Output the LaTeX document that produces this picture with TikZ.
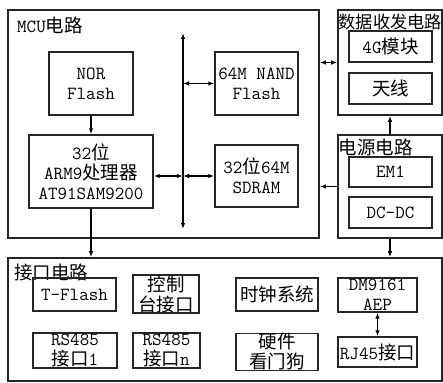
\documentclass[tikz,border=0pt]{standalone}
\usepackage{fontspec}
\newfontfamily\cjk{Noto Sans CJK SC}
\newcommand{\zh}[1]{{\cjk #1}}
\usetikzlibrary{arrows.meta}

\begin{document}
\begin{tikzpicture}[x=1pt, y=-1pt, font=\ttfamily\fontsize{18.5}{20}\selectfont, >={Latex[length=6pt,width=4.5pt]},
	group/.style={draw=black!85, line width=1.6pt, inner sep=0pt},
	unit/.style={draw=black!85, line width=1.4pt, inner sep=0pt, align=center},
	title/.style={anchor=west, inner sep=0pt},
	link/.style={line width=1.2pt}]
\useasboundingbox[fill=white] (0,0) rectangle (443,382);

% ---- MCU电路 ----
\node[group, minimum width=311pt, minimum height=228pt] (mcu) at (163.5,124) {};
\node[title] (mcuT) at (17,25) {MCU\zh{电路}};
\node[unit, minimum width=84pt, minimum height=63pt] (nor) at (91,83.5) {NOR\\Flash};
\node[unit, minimum width=124pt, minimum height=73pt] (arm) at (91,171.5) {32\zh{位}\\ARM9\zh{处理器}\\AT91SAM9200};
\node[unit, minimum width=83pt, minimum height=63pt] (nand) at (256.5,83.5) {64M NAND\\Flash};
\node[unit, minimum width=83pt, minimum height=62pt] (sdram) at (256.5,176) {32\zh{位}64M\\SDRAM};
\coordinate (busTop) at (183,33);
\coordinate (busBot) at (183,229);
\draw[link,<->] (busTop) -- (busBot);
\draw[link,->] (nor) -- (arm);
\draw[link,<->] (arm.east |- sdram) -- (busTop |- sdram);
\draw[link,<->] (busTop |- nand) -- (nand);
\draw[link,<->] (busTop |- sdram) -- (sdram);

% ---- 数据收发电路 ----
\node[group, minimum width=104pt, minimum height=105pt] (data) at (390,62.5) {};
\node[title, font=\fontsize{17.2}{19}\selectfont] (dataT) at (338.5,22) {\zh{数据收发电路}};
\node[unit, minimum width=83pt, minimum height=31pt] (g4) at (390.5,46.5) {4G\zh{模块}};
\node[unit, minimum width=83pt, minimum height=31pt] (ant) at (390.5,88.5) {\zh{天线}};

% ---- 电源电路 ----
\node[group, minimum width=104pt, minimum height=103pt] (power) at (390,186.5) {};
\node[title] (powerT) at (338.5,147) {\zh{电源电路}};
\node[unit, minimum width=83pt, minimum height=30pt] (em1) at (390.5,172) {EM1};
\node[unit, minimum width=83pt, minimum height=31pt] (dcdc) at (390.5,212.5) {DC-DC};

% ---- 接口电路 ----
\node[group, minimum width=434pt, minimum height=123pt] (port) at (225,319.5) {};
\node[title] (portT) at (14,272) {\zh{接口电路}};
\node[unit, minimum width=83pt, minimum height=33pt] (tf) at (74.5,294.5) {T-Flash};
\node[unit, minimum width=66pt, minimum height=38pt] (ctrl) at (166,294) {\zh{控制}\\\zh{台接口}};
\node[unit, minimum width=82pt, minimum height=33pt] (clk) at (277,294.5) {\zh{时钟系统}};
\node[unit, minimum width=79pt, minimum height=34pt] (dm) at (377.5,295) {DM9161\\AEP};
\node[unit, minimum width=84pt, minimum height=35pt] (rs1) at (75,350.5) {RS485\\\zh{接口}1};
\node[unit, minimum width=67pt, minimum height=35pt] (rsn) at (166.5,350.5) {RS485\\\zh{接口}n};
\node[unit, minimum width=82pt, minimum height=36pt] (wdog) at (277,352) {\zh{硬件}\\\zh{看门狗}};
\node[unit, minimum width=79pt, minimum height=30pt] (rj) at (377.5,352) {RJ45\zh{接口}};
\draw[link,<->] (dm) -- (rj);

% ---- 模块间连线 ----
\draw[link,<->] (mcu.east |- data) -- (data);
\draw[link,->] (power) -- (data);
\draw[link,->] (power) -- (mcu.east |- power);
\draw[link,->] (power) -- (port.north -| power);
\draw[link,->] (arm) -- (port.north -| arm);
\end{tikzpicture}
\end{document}
